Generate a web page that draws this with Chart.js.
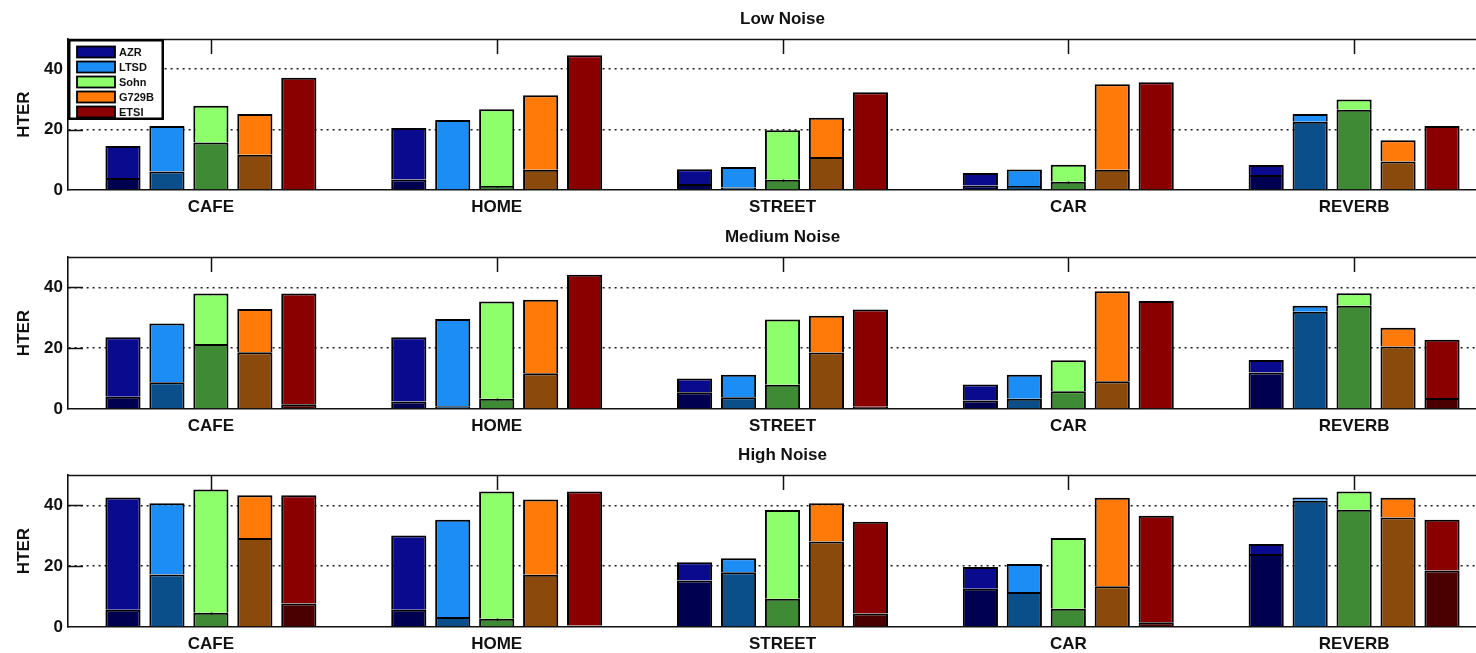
<!DOCTYPE html>
<html>
<head>
<meta charset="utf-8">
<script src="https://cdn.jsdelivr.net/npm/chart.js@4.4.1/dist/chart.umd.min.js"></script>
<style>
  html, body { margin: 0; padding: 0; background: #fff; overflow: hidden; }
  #wrap { position: relative; width: 1476px; height: 653px; overflow: hidden; background: #fff; }
  #wrap canvas { position: absolute; left: 0; }
</style>
</head>
<body>
<div id="wrap">
  <canvas id="lowNoise" width="1500" height="218" style="top:0px;width:1500px;height:218px"></canvas>
  <canvas id="mediumNoise" width="1500" height="218" style="top:218px;width:1500px;height:218px"></canvas>
  <canvas id="highNoise" width="1500" height="218" style="top:436px;width:1500px;height:218px"></canvas>
</div>
<script>
// Environments on the x axis and the VAD methods compared in each group
const categories = ['CAFE', 'HOME', 'STREET', 'CAR', 'REVERB'];
const methods = ['AZR', 'LTSD', 'Sohn', 'G729B', 'ETSI'];
const yTickValues = [0, 20, 40];

// HTER (%) — one row per method, one column per environment.
// "Total" is the full bar height, "Lower" the dark bottom segment.
const lowTotal = [
  [14.6, 20.5, 6.9, 5.6, 8.3],
  [21.2, 23.2, 7.6, 6.8, 25.2],
  [27.9, 26.7, 19.8, 8.4, 30.0],
  [25.2, 31.4, 23.9, 35.0, 16.5],
  [37.2, 44.6, 32.4, 35.7, 21.2]
];
const lowLower = [
  [4.0, 3.5, 2.0, 1.5, 5.0],
  [6.1, 0.0, 0.8, 1.3, 22.6],
  [15.7, 1.3, 3.4, 2.7, 26.6],
  [11.7, 6.7, 10.9, 6.7, 9.4],
  [0.0, 0.0, 0.0, 0.0, 0.0]
];

const mediumTotal = [
  [23.6, 23.6, 10.0, 8.1, 16.1],
  [28.1, 29.6, 11.3, 11.3, 34.0],
  [38.0, 35.4, 29.4, 16.0, 38.1],
  [32.9, 35.9, 30.7, 38.7, 26.7],
  [38.0, 44.2, 32.7, 35.5, 22.8]
];
const mediumLower = [
  [4.0, 2.5, 5.5, 2.8, 12.0],
  [8.8, 0.9, 3.9, 3.4, 32.0],
  [21.4, 3.4, 8.0, 5.8, 34.0],
  [18.7, 11.8, 18.6, 9.1, 20.6],
  [1.6, 0.0, 0.7, 0.0, 3.6]
];

const highTotal = [
  [42.6, 30.1, 21.3, 19.7, 27.3],
  [40.7, 35.3, 22.6, 20.7, 42.6],
  [45.2, 44.6, 38.5, 29.3, 44.6],
  [43.3, 41.9, 40.7, 42.5, 42.5],
  [43.3, 44.6, 34.6, 36.6, 35.3]
];
const highLower = [
  [5.7, 5.7, 15.3, 12.6, 24.0],
  [17.3, 3.3, 18.0, 11.5, 41.5],
  [4.7, 2.7, 9.3, 6.0, 38.6],
  [29.3, 17.2, 28.1, 13.4, 36.0],
  [7.7, 0.5, 4.4, 1.6, 18.6]
];

const lightColors = ['#0a0a8e', '#1c8df5', '#8cff6a', '#ff7a08', '#8a0000'];
const darkColors  = ['#000050', '#0a4f8a', '#3f8a35', '#8a4a0c', '#4a0000'];

const FONT = '"Liberation Sans", Arial, Helvetica, sans-serif';
const INK = '#111';

// Builds two stacked datasets per method: dark base + light remainder
function buildDatasets(total, lower) {
  const sets = [];
  methods.forEach((name, k) => {
    sets.push({
      label: name + ' base',
      data: lower[k],
      backgroundColor: darkColors[k],
      borderColor: '#000',
      borderWidth: 2,
      stack: name,
      isBase: true
    });
    sets.push({
      label: name,
      data: total[k].map((v, i) => v - lower[k][i]),
      backgroundColor: lightColors[k],
      borderColor: '#000',
      borderWidth: 2,
      stack: name,
      isBase: false
    });
  });
  return sets;
}

// Inward tick marks (drawn under the bars) and the closing box lines
const axesFrame = {
  id: 'axesFrame',
  beforeDatasetsDraw(chart) {
    const {ctx, chartArea: a, scales: {x, y}} = chart;
    const len = 15;
    ctx.save();
    ctx.strokeStyle = INK;
    ctx.lineWidth = 1.5;
    ctx.beginPath();
    categories.forEach((c, i) => {
      const px = Math.round(x.getPixelForValue(i)) + 0.5;
      ctx.moveTo(px, a.top); ctx.lineTo(px, a.top + len);
      ctx.moveTo(px, a.bottom); ctx.lineTo(px, a.bottom - len);
    });
    yTickValues.forEach(v => {
      if (v === 0) return;
      const py = Math.round(y.getPixelForValue(v)) + 0.5;
      ctx.moveTo(a.left, py); ctx.lineTo(a.left + len, py);
      ctx.moveTo(a.right, py); ctx.lineTo(a.right - len, py);
    });
    ctx.stroke();
    ctx.restore();
  },
  afterDatasetsDraw(chart) {
    const {ctx, chartArea: a} = chart;
    ctx.save();
    ctx.strokeStyle = INK;
    ctx.lineWidth = 1.6;
    ctx.beginPath();
    ctx.moveTo(a.left, Math.round(a.top) + 0.5);
    ctx.lineTo(a.right, Math.round(a.top) + 0.5);
    ctx.moveTo(Math.round(a.right) + 0.5, a.top);
    ctx.lineTo(Math.round(a.right) + 0.5, a.bottom);
    ctx.stroke();
    ctx.restore();
  }
};

// Framed legend in the upper-left corner of the plot
const cornerLegend = {
  id: 'cornerLegend',
  afterDraw(chart, args, opts) {
    if (!opts.show) return;
    const {ctx, chartArea: a} = chart;
    const x0 = a.left, y0 = Math.round(a.top);
    const w = 96, h = 81;
    ctx.save();
    ctx.fillStyle = '#fff';
    ctx.fillRect(x0, y0, w, h);
    ctx.strokeStyle = '#000';
    ctx.lineWidth = 2.5;
    ctx.strokeRect(x0 + 1.25, y0 + 1.25, w - 2.5, h - 2.5);
    ctx.font = 'bold 11px ' + FONT;
    ctx.textBaseline = 'middle';
    ctx.textAlign = 'left';
    const entries = chart.data.datasets.filter(d => !d.isBase);
    entries.forEach((d, i) => {
      const cy = y0 + 13 + 15 * i;
      ctx.fillStyle = d.backgroundColor;
      ctx.fillRect(x0 + 9, cy - 5.5, 38, 11);
      ctx.lineWidth = 1.8;
      ctx.strokeStyle = '#000';
      ctx.strokeRect(x0 + 9, cy - 5.5, 38, 11);
      ctx.fillStyle = INK;
      ctx.fillText(d.label, x0 + 51, cy + 0.5);
    });
    ctx.restore();
  }
};

function makePanel(canvasId, titleText, total, lower, xAxisHeight, showLegend) {
  return new Chart(document.getElementById(canvasId), {
    type: 'bar',
    data: { labels: categories, datasets: buildDatasets(total, lower) },
    plugins: [axesFrame, cornerLegend],
    options: {
      responsive: false,
      animation: false,
      devicePixelRatio: 1,
      layout: { padding: { left: 0, right: 3, top: 0, bottom: 0 } },
      datasets: { bar: { categoryPercentage: 0.769, barPercentage: 0.8, borderSkipped: 'start' } },
      plugins: {
        legend: { display: false },
        tooltip: { enabled: false },
        cornerLegend: { show: showLegend },
        title: {
          display: true,
          text: titleText,
          fullSize: false,
          color: INK,
          font: { family: FONT, size: 17, weight: 'bold', lineHeight: 1.2 },
          padding: { top: 9, bottom: 9.6 }
        }
      },
      scales: {
        x: {
          stacked: true,
          grid: { display: false, drawTicks: false },
          border: { display: true, color: INK, width: 1.6 },
          ticks: {
            color: INK,
            padding: 7,
            maxRotation: 0,
            font: { family: FONT, size: 17, weight: 'bold', lineHeight: 1.2 }
          },
          afterFit(scale) { scale.height = xAxisHeight; }
        },
        y: {
          stacked: true,
          min: 0,
          max: 50,
          afterBuildTicks(scale) { scale.ticks = yTickValues.map(v => ({ value: v })); },
          grid: {
            drawTicks: false,
            lineWidth: 1.5,
            color: c => (c.tick && c.tick.value === 0) ? 'rgba(0,0,0,0)' : '#1a1a1a'
          },
          border: { display: true, color: INK, width: 1.6, dash: [2, 4] },
          ticks: {
            color: INK,
            padding: 5,
            font: { family: FONT, size: 17, weight: 'bold', lineHeight: 1.2 }
          },
          title: {
            display: true,
            text: 'HTER',
            color: INK,
            padding: { top: 14, bottom: 0 },
            font: { family: FONT, size: 17, weight: 'bold', lineHeight: 1.2 }
          },
          afterFit(scale) { scale.width = 68; }
        }
      }
    }
  });
}

makePanel('lowNoise', 'Low Noise', lowTotal, lowLower, 28, true);
makePanel('mediumNoise', 'Medium Noise', mediumTotal, mediumLower, 27, false);
makePanel('highNoise', 'High Noise', highTotal, highLower, 27, false);
</script>
</body>
</html>
